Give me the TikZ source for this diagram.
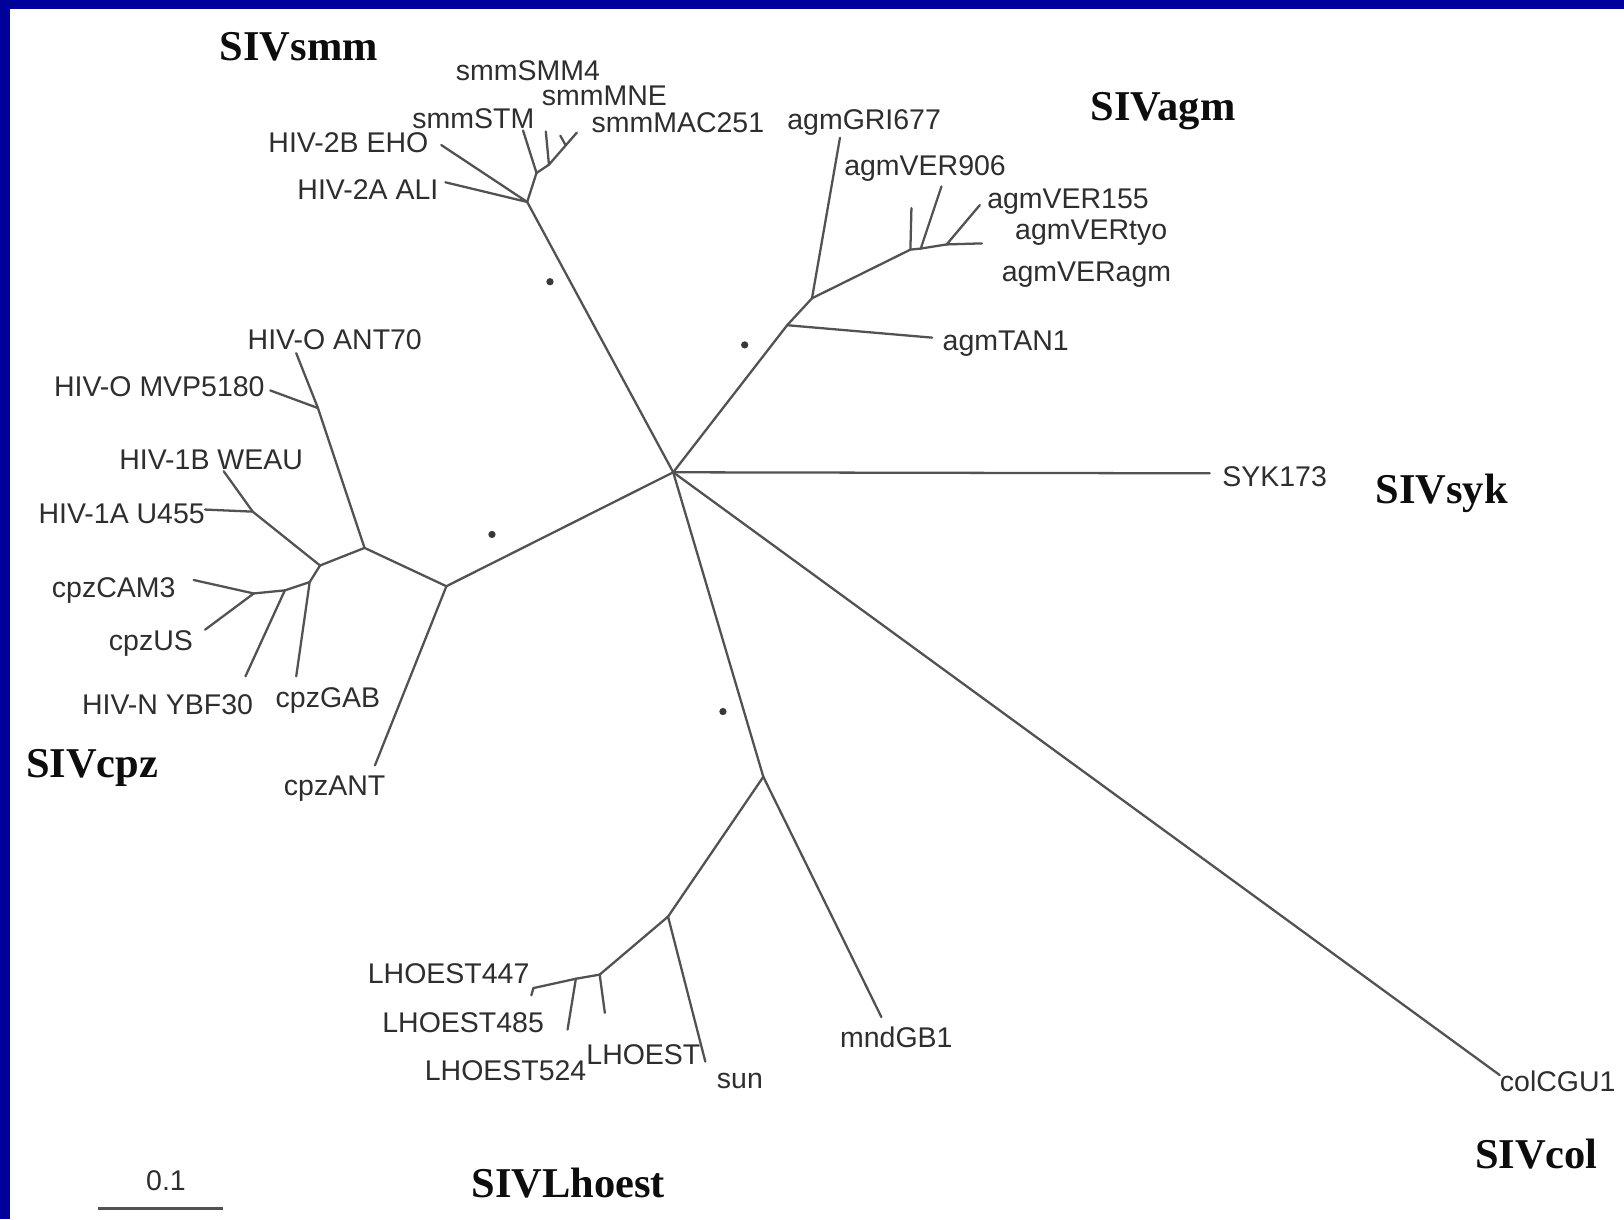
\documentclass[tikz,border=0pt]{standalone}
\usepackage{fontspec}
\setmainfont{Liberation Serif}
\newfontfamily\labfont{Liberation Sans}
\definecolor{frameblue}{RGB}{0,0,155}
\begin{document}
\begin{tikzpicture}[x=1pt,y=-1pt,
  br/.style={line width=2.2pt, draw=black!68, line cap=round},
  lab/.style={anchor=base west, inner sep=0pt, font=\labfont\fontsize{27.5}{30}\selectfont, text=black!82},
  ttl/.style={anchor=base west, inner sep=0pt, font=\bfseries\fontsize{41}{45}\selectfont, text=black!95},
  sdot/.style={circle, fill=black!78, inner sep=0pt, minimum size=7pt}]

\useasboundingbox (0,0) rectangle (1568,1177);
\fill[white] (0,0) rectangle (1568,1177);
\fill[frameblue] (0,0) rectangle (1568,8.7);
\fill[frameblue] (0,0) rectangle (9.7,1177);

% ---------- titles ----------
\node[ttl] (tsmm) at (212,58.5) {SIVsmm};
\node[ttl] (tagm) at (1053,116.5) {SIVagm};
\node[ttl] (tsyk) at (1328,486.5) {SIVsyk};
\node[ttl] (tcpz) at (25,750.5) {SIVcpz};
\node[ttl] (tlho) at (455,1156.5) {SIVLhoest};
\node[ttl] (tcol) at (1424,1128.5) {SIVcol};

% ---------- labels ----------
\node[lab] (lSMM4) at (440,78) {smmSMM4};
\node[lab] (lMNE) at (523,102) {smmMNE};
\node[lab] (lSTM) at (398,124) {smmSTM};
\node[lab] (lMAC) at (571,128) {smmMAC251};
\node[lab] (l2B) at (259,147) {HIV-2B EHO};
\node[lab] (l2A) at (287,193) {HIV-2A ALI};
\node[lab] (lGRI) at (760,125) {agmGRI677};
\node[lab] (lV906) at (815,169) {agmVER906};
\node[lab] (lV155) at (953,201) {agmVER155};
\node[lab] (lVtyo) at (980,231) {agmVERtyo};
\node[lab] (lVagm) at (967,272) {agmVERagm};
\node[lab] (lTAN) at (910,338) {agmTAN1};
\node[lab] (lSYK) at (1180,470) {SYK173};
\node[lab] (lANT70) at (239,337) {HIV-O ANT70};
\node[lab] (lMVP) at (52,383) {HIV-O MVP5180};
\node[lab] (lWEAU) at (115,453) {HIV-1B WEAU};
\node[lab] (lU455) at (37,505) {HIV-1A U455};
\node[lab] (lCAM) at (50,577) {cpzCAM3};
\node[lab] (lUS) at (105,628) {cpzUS};
\node[lab] (lYBF) at (79,690) {HIV-N YBF30};
\node[lab] (lGAB) at (266,683) {cpzGAB};
\node[lab] (lANT) at (274,768) {cpzANT};
\node[lab] (l447) at (355,950) {LHOEST447};
\node[lab] (l485) at (369,997) {LHOEST485};
\node[lab] (l524) at (410,1043) {LHOEST524};
\node[lab] (lLHO) at (566,1028) {LHOEST};
\node[lab] (lsun) at (692,1051) {sun};
\node[lab] (lMND) at (811,1011) {mndGB1};
\node[lab] (lCOL) at (1448,1054) {colCGU1};
\node[lab] (lscale) at (141,1149) {0.1};

% ---------- tree points ----------
\coordinate (C) at (650,456);
% smm
\coordinate (S1) at (509,195);
\coordinate (e2A) at (430,176);
\coordinate (e2B) at (426,140);
\coordinate (S2) at (518,167);
\coordinate (eSTM) at (505,126);
\coordinate (S3) at (530,159);
\coordinate (eSMM4) at (527,127);
\coordinate (eMAC) at (557,128);
\coordinate (S4) at (546,140);
\coordinate (eMNE) at (541,131);
% agm
\coordinate (A1) at (760,314);
\coordinate (eTAN) at (900,326);
\coordinate (A2) at (784,288);
\coordinate (eGRI) at (811,133);
\coordinate (A3) at (879,241);
\coordinate (eV1) at (880,201);
\coordinate (A4) at (889,240);
\coordinate (eV2) at (909,180);
\coordinate (A5) at (914,236);
\coordinate (eV3) at (946,198);
\coordinate (eV4) at (948,235);
% syk, col
\coordinate (eSYK) at (1168,457);
\coordinate (eCOL) at (1448,1038);
% mnd / lhoest
\coordinate (M1) at (737,750);
\coordinate (eMND) at (851,982);
\coordinate (L1) at (645,885);
\coordinate (eSUN) at (681,1025);
\coordinate (L2) at (579,941);
\coordinate (eL2) at (584,978);
\coordinate (L3) at (556,945);
\coordinate (eL3) at (548,994);
\coordinate (e447) at (515,954);
\coordinate (e447b) at (513,961);
% cpz / hiv
\coordinate (H3) at (431,566);
\coordinate (eANT) at (362,739);
\coordinate (H2) at (352,529);
\coordinate (H1) at (307,394);
\coordinate (eANT70) at (286,341);
\coordinate (eMVP) at (261,377);
\coordinate (H4) at (309,546);
\coordinate (H5) at (244,494);
\coordinate (eWEAU) at (216,455);
\coordinate (eU455) at (198,492);
\coordinate (H6) at (299,562);
\coordinate (eGAB) at (286,653);
\coordinate (H7) at (275,570);
\coordinate (eYBF) at (237,653);
\coordinate (H8) at (245,573);
\coordinate (eCAM) at (187,560);
\coordinate (eUS) at (198,608);
% scale bar
\coordinate (sb1) at (95,1167);
\coordinate (sb2) at (215,1167);

% ---------- branches ----------
\draw[br] (C) -- (S1);
\draw[br] (S1) -- (e2A);
\draw[br] (S1) -- (e2B);
\draw[br] (S1) -- (S2);
\draw[br] (S2) -- (eSTM);
\draw[br] (S2) -- (S3);
\draw[br] (S3) -- (eSMM4);
\draw[br] (S3) -- (eMAC);
\draw[br] (S4) -- (eMNE);

\draw[br] (C) -- (A1);
\draw[br] (A1) -- (eTAN);
\draw[br] (A1) -- (A2);
\draw[br] (A2) -- (eGRI);
\draw[br] (A2) -- (A3);
\draw[br] (A3) -- (eV1);
\draw[br] (A3) -- (A4);
\draw[br] (A4) -- (eV2);
\draw[br] (A4) -- (A5);
\draw[br] (A5) -- (eV3);
\draw[br] (A5) -- (eV4);

\draw[br] (C) -- (eSYK);
\draw[br] (C) -- (eCOL);

\draw[br] (C) -- (M1);
\draw[br] (M1) -- (eMND);
\draw[br] (M1) -- (L1);
\draw[br] (L1) -- (eSUN);
\draw[br] (L1) -- (L2);
\draw[br] (L2) -- (eL2);
\draw[br] (L2) -- (L3);
\draw[br] (L3) -- (eL3);
\draw[br] (L3) -- (e447);
\draw[br] (e447) -- (e447b);

\draw[br] (C) -- (H3);
\draw[br] (H3) -- (eANT);
\draw[br] (H3) -- (H2);
\draw[br] (H2) -- (H1);
\draw[br] (H1) -- (eANT70);
\draw[br] (H1) -- (eMVP);
\draw[br] (H2) -- (H4);
\draw[br] (H4) -- (H5);
\draw[br] (H5) -- (eWEAU);
\draw[br] (H5) -- (eU455);
\draw[br] (H4) -- (H6);
\draw[br] (H6) -- (eGAB);
\draw[br] (H6) -- (H7);
\draw[br] (H7) -- (eYBF);
\draw[br] (H7) -- (H8);
\draw[br] (H8) -- (eCAM);
\draw[br] (H8) -- (eUS);

\draw[br, line width=3pt, line cap=butt] (sb1) -- (sb2);

% ---------- bootstrap marks ----------
\node[sdot] (d1) at (531,272) {};
\node[sdot] (d2) at (719,333) {};
\node[sdot] (d3) at (475,516) {};
\node[sdot] (d4) at (698,687) {};
\end{tikzpicture}
\end{document}
